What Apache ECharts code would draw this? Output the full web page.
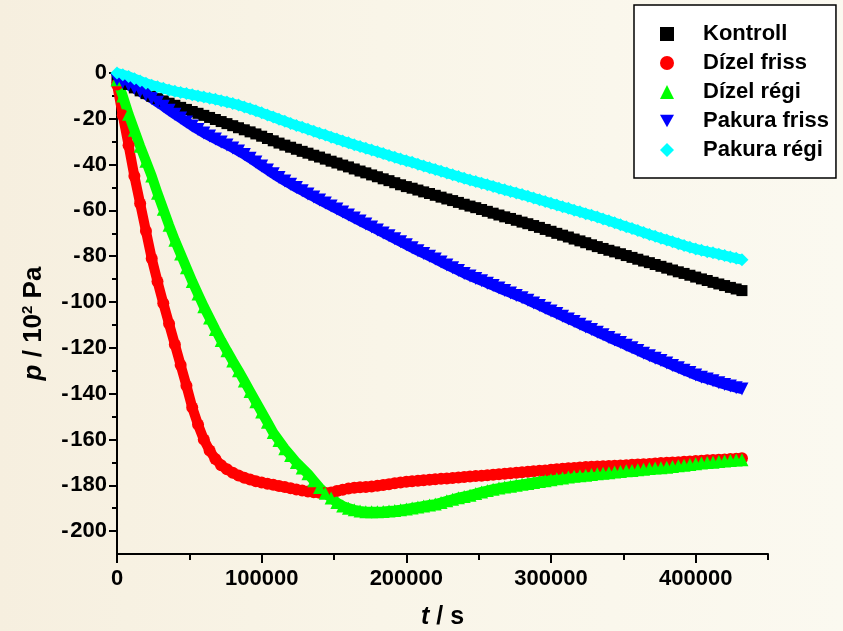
<!DOCTYPE html>
<html>
<head>
<meta charset="utf-8">
<script src="https://cdn.jsdelivr.net/npm/echarts@6/dist/echarts.min.js"></script>
<style>
html,body{margin:0;padding:0;}
#c{width:843px;height:631px;}
</style>
</head>
<body>
<div id="c"></div>
<script>
// time axis samples (s)
var timeS = [0,4000,8000,12000,16000,20000,24000,28000,32000,36000,40000,44000,48000,52000,56000,60000,64000,68000,72000,76000,80000,84000,88000,92000,96000,100000,104000,108000,112000,116000,120000,124000,128000,132000,136000,140000,144000,148000,152000,156000,160000,164000,168000,172000,176000,180000,184000,188000,192000,196000,200000,204000,208000,212000,216000,220000,224000,228000,232000,236000,240000,244000,248000,252000,256000,260000,264000,268000,272000,276000,280000,284000,288000,292000,296000,300000,304000,308000,312000,316000,320000,324000,328000,332000,336000,340000,344000,348000,352000,356000,360000,364000,368000,372000,376000,380000,384000,388000,392000,396000,400000,404000,408000,412000,416000,420000,424000,428000,432000];

var kontroll = [-2,-3.5,-5,-6.5,-7.8,-9,-10.2,-11.2,-12.2,-13.2,-14.1,-15,-15.9,-16.8,-17.6,-18.5,-19.4,-20.3,-21.2,-22.1,-23,-23.9,-24.8,-25.7,-26.6,-27.6,-28.6,-29.6,-30.6,-31.5,-32.4,-33.3,-34.2,-35,-35.9,-36.7,-37.6,-38.5,-39.3,-40.2,-41,-41.9,-42.8,-43.6,-44.5,-45.3,-46.2,-47,-47.9,-48.8,-49.6,-50.3,-51.1,-51.9,-52.6,-53.4,-54.2,-55,-55.7,-56.5,-57.3,-58.1,-58.8,-59.6,-60.4,-61.2,-62,-62.8,-63.5,-64.3,-65.1,-65.8,-66.6,-67.4,-68.3,-69.1,-70,-70.8,-71.6,-72.5,-73.3,-74.1,-75,-75.8,-76.6,-77.4,-78.1,-78.9,-79.7,-80.5,-81.3,-82.1,-82.8,-83.6,-84.4,-85.2,-86,-86.8,-87.5,-88.3,-89.1,-89.9,-90.6,-91.4,-92.1,-92.8,-93.6,-94.3,-95];

var dizelFriss = [-5,-18.5,-31.5,-45,-57,-69,-81,-91,-100.5,-109.5,-118.5,-127.5,-136.5,-146,-153.5,-160,-164.8,-168.5,-171.3,-173,-174.5,-175.7,-176.7,-177.5,-178.2,-178.8,-179.3,-179.8,-180.3,-180.8,-181.3,-181.8,-182.3,-182.7,-183,-183.3,-183.4,-183.1,-182.5,-181.9,-181.4,-181.1,-180.9,-180.7,-180.5,-180.2,-179.9,-179.5,-179.1,-178.8,-178.5,-178.2,-178,-177.8,-177.6,-177.4,-177.2,-177,-176.8,-176.6,-176.4,-176.2,-176,-175.8,-175.6,-175.4,-175.2,-175,-174.7,-174.5,-174.3,-174.1,-173.9,-173.7,-173.5,-173.2,-173,-172.8,-172.6,-172.4,-172.2,-172,-171.9,-171.8,-171.7,-171.6,-171.5,-171.4,-171.2,-171,-170.9,-170.8,-170.7,-170.5,-170.3,-170.2,-170,-169.9,-169.7,-169.6,-169.4,-169.3,-169.1,-169,-168.8,-168.7,-168.5,-168.4,-168.2];

var dizelRegi = [-3,-10,-18,-25,-32,-38.5,-45,-52.5,-59.5,-66.5,-73,-79,-85,-91,-96.5,-102,-107,-112,-116.8,-121.3,-125.7,-130,-134.5,-139,-143.5,-148,-152.5,-157,-160.5,-164,-167,-170,-172.5,-175,-178,-181,-183.5,-185.5,-187.5,-189,-190,-190.7,-191.2,-191.5,-191.5,-191.5,-191.4,-191.2,-191,-190.7,-190.3,-189.9,-189.5,-189,-188.6,-188.2,-187.5,-186.8,-186.1,-185.4,-184.9,-184.3,-183.6,-182.9,-182.3,-181.7,-181.2,-180.8,-180.4,-180,-179.6,-179.2,-178.8,-178.4,-178,-177.6,-177.2,-176.8,-176.4,-176.1,-175.8,-175.6,-175.3,-175,-174.7,-174.5,-174.2,-174,-173.7,-173.5,-173.2,-173,-172.7,-172.5,-172.3,-172.1,-171.8,-171.5,-171.2,-170.9,-170.6,-170.3,-170.1,-169.9,-169.6,-169.4,-169.2,-169,-168.8];

var pakuraFriss = [-3,-4.2,-5.4,-6.7,-8.1,-9.5,-11.1,-12.8,-14.5,-16.3,-18,-19.7,-21.4,-23.1,-24.7,-26.2,-27.5,-28.8,-30.1,-31.4,-32.7,-34.1,-35.6,-37.2,-38.9,-40.6,-42.3,-44,-45.6,-47.1,-48.6,-50,-51.4,-52.8,-54.1,-55.5,-56.8,-58.1,-59.4,-60.7,-62,-63.3,-64.6,-65.9,-67.2,-68.5,-69.8,-71.1,-72.4,-73.7,-75,-76.3,-77.6,-78.8,-80,-81.2,-82.5,-83.8,-85,-86.2,-87.5,-88.6,-89.7,-90.7,-91.8,-92.8,-93.9,-95,-96,-97.1,-98.1,-99.2,-100.4,-101.5,-102.7,-103.9,-105,-106.2,-107.4,-108.5,-109.7,-110.9,-112,-113.2,-114.3,-115.5,-116.6,-117.7,-118.9,-120,-121.1,-122.3,-123.4,-124.5,-125.5,-126.6,-127.7,-128.7,-129.8,-130.8,-131.9,-132.8,-133.6,-134.4,-135.2,-136,-136.7,-137.4,-138];

var pakuraRegi = [0,-0.8,-1.5,-2.5,-3.5,-4.5,-5.3,-6,-6.7,-7.4,-8,-8.5,-9,-9.5,-10,-10.5,-11,-11.5,-12.1,-12.7,-13.3,-14,-14.8,-15.6,-16.5,-17.4,-18.3,-19.2,-20.2,-21.1,-22,-22.9,-23.7,-24.6,-25.4,-26.3,-27.1,-28,-28.8,-29.7,-30.5,-31.3,-32.1,-32.9,-33.6,-34.4,-35.2,-36,-36.8,-37.6,-38.3,-39,-39.8,-40.6,-41.4,-42.1,-42.9,-43.7,-44.4,-45.2,-46,-46.7,-47.4,-48.1,-48.8,-49.5,-50.3,-51,-51.7,-52.4,-53.1,-53.8,-54.6,-55.3,-56.1,-56.9,-57.6,-58.4,-59.1,-59.9,-60.6,-61.4,-62.1,-62.9,-63.7,-64.5,-65.4,-66.2,-67.1,-67.9,-68.8,-69.6,-70.5,-71.3,-72.1,-72.9,-73.7,-74.5,-75.3,-76.1,-76.8,-77.4,-78,-78.5,-79.1,-79.7,-80.3,-80.9,-81.5];

var seriesNames = ['Kontroll','Dízel friss','Dízel régi','Pakura friss','Pakura régi'];
var seriesValues = [kontroll, dizelFriss, dizelRegi, pakuraFriss, pakuraRegi];

var yMajorTicks = [0,-20,-40,-60,-80,-100,-120,-140,-160,-180,-200];
var yMinorTicks = [-10,-30,-50,-70,-90,-110,-130,-150,-170,-190];
var xMajorTicks = [0,100000,200000,300000,400000];
var xMinorTicks = [50000,150000,250000,350000,450000];

var colors = ['#000000','#ff0000','#00ff00','#0000ff','#00ffff'];
var symbols = ['rect','circle','triangle','triangle','diamond'];
var symbolSizes = [11,12,13,13,13];
var rotations = [0,0,0,180,0];
var legendIcons = ['rect','circle','triangle','path://M0,0L10,0L5,9Z','diamond'];

var FONT = '"Liberation Sans", Arial, sans-serif';

var chart = echarts.init(document.getElementById('c'), null, {renderer:'canvas'});

var series = seriesNames.map(function(n, k){
  return {
    name: n,
    type: 'line',
    data: timeS.map(function(t, i){ return [t, seriesValues[k][i]]; }),
    symbol: symbols[k],
    symbolSize: symbolSizes[k],
    symbolRotate: rotations[k],
    showSymbol: true,
    lineStyle: {color: colors[k], width: 10},
    itemStyle: {color: colors[k], borderWidth: 0},
    emphasis: {disabled: true},
    silent: true,
    clip: false
  };
});

var axisLabelStyle = {fontFamily: FONT, fontWeight: 'bold', fontSize: 22, color: '#000'};

chart.setOption({
  animation: false,
  backgroundColor: 'transparent',
  graphic: [{
    type: 'rect', z: -10, silent: true,
    shape: {x: 0, y: 0, width: 843, height: 631},
    style: {fill: new echarts.graphic.LinearGradient(0, 0, 1, 0, [
      {offset: 0, color: '#f6efdf'},
      {offset: 0.45, color: '#f9f5e8'},
      {offset: 1, color: '#fbf9f0'}
    ])}
  }],
  grid: {left: 117, top: 73, width: 651, height: 481, containLabel: false, outerBoundsMode: 'none'},
  legend: {
    orient: 'vertical',
    left: 634, top: 5,
    padding: [18, 7, 17, 26],
    backgroundColor: '#ffffff',
    borderColor: '#000000',
    borderWidth: 1.5,
    borderRadius: 0,
    itemWidth: 14, itemHeight: 14,
    itemGap: 7,
    selectedMode: false,
    textStyle: {fontFamily: FONT, fontWeight: 'bold', fontSize: 22, color: '#000', lineHeight: 22, padding: [0,0,0,24]},
    data: seriesNames.map(function(n, k){ return {name: n, icon: legendIcons[k]}; })
  },
  xAxis: [{
    type: 'value', min: 0, max: 450000, interval: 50000,
    position: 'bottom',
    name: '{i|t} / s',
    nameLocation: 'middle', nameGap: 51,
    nameTextStyle: {fontFamily: FONT, fontWeight: 'bold', fontSize: 25, color: '#000',
      rich: {i: {fontFamily: FONT, fontWeight: 'bold', fontStyle: 'italic', fontSize: 25, color: '#000'}}},
    axisLine: {show: true, onZero: false, lineStyle: {color: '#000', width: 2}},
    axisTick: {show: true, length: 9, lineStyle: {color: '#000', width: 2}, customValues: xMajorTicks},
    axisLabel: Object.assign({margin: 14, customValues: xMajorTicks, formatter: function(v){ return String(v); }}, axisLabelStyle),
    splitLine: {show: false}
  }, {
    type: 'value', min: 0, max: 450000, interval: 50000,
    position: 'bottom', gridIndex: 0,
    axisLine: {show: false, onZero: false},
    axisTick: {show: true, length: 6, lineStyle: {color: '#000', width: 2}, customValues: xMinorTicks},
    axisLabel: {show: false},
    splitLine: {show: false}
  }],
  yAxis: [{
    type: 'value', min: -210, max: 0, interval: 10,
    position: 'left',
    name: '{i|p} / 10{s|2} Pa',
    nameLocation: 'middle', nameGap: 69,
    nameTextStyle: {fontFamily: FONT, fontWeight: 'bold', fontSize: 26, color: '#000', padding: [0, 20, 0, 0],
      rich: {
        i: {fontFamily: FONT, fontWeight: 'bold', fontStyle: 'italic', fontSize: 26, color: '#000'},
        s: {fontFamily: FONT, fontWeight: 'bold', fontSize: 15, color: '#000', verticalAlign: 'bottom', padding: [0,0,13,0]}
      }},
    axisLine: {show: true, onZero: false, lineStyle: {color: '#000', width: 2}},
    axisTick: {show: true, length: 8, lineStyle: {color: '#000', width: 2}, customValues: yMajorTicks},
    axisLabel: Object.assign({margin: 10, customValues: yMajorTicks, formatter: function(v){ return v < 0 ? '-\u200a' + String(-v) : String(v); }}, axisLabelStyle),
    splitLine: {show: false}
  }, {
    type: 'value', min: -210, max: 0, interval: 10,
    position: 'left', gridIndex: 0,
    axisLine: {show: false, onZero: false},
    axisTick: {show: true, length: 5, lineStyle: {color: '#000', width: 2}, customValues: yMinorTicks},
    axisLabel: {show: false},
    splitLine: {show: false}
  }],
  series: series
});
</script>
</body>
</html>
